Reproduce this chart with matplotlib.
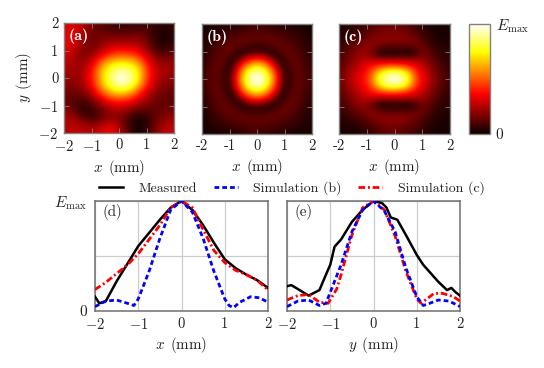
#!/usr/bin/env python
import matplotlib
matplotlib.use("Agg")
import matplotlib.pyplot as plt
import numpy as np
from matplotlib.lines import Line2D

W, H = 544.0, 368.0
plt.rcParams['font.family'] = ['cmr10', 'DejaVu Sans']
plt.rcParams['mathtext.fontset'] = 'cm'
plt.rcParams['axes.unicode_minus'] = False
plt.rcParams['axes.formatter.use_mathtext'] = True
plt.rcParams['font.size'] = 10.5
TXT = '#222222'
FRAME = '#808080'
BLUE_DASH = (0, (1.7, 1.1))
RED_DASH = (0, (2.4, 1.0, 0.7, 1.0))
X_LABEL = r'$x\ \,(\mathrm{mm})$'
Y_LABEL = r'$y\ \,(\mathrm{mm})$'

# field maps, rows go from y=2 down to y=-2, columns from x=-2 to x=2
map_a = np.array([
    [.30, .30, .28, .22, .15, .12, .10, .08, .07, .07, .07, .08, .08, .07, .05, .05, .06],
    [.33, .33, .28, .20, .15, .14, .14, .13, .12, .12, .13, .14, .12, .08, .04, .03, .05],
    [.33, .32, .26, .18, .15, .17, .19, .20, .20, .20, .20, .20, .17, .10, .04, .02, .05],
    [.33, .30, .22, .17, .16, .20, .25, .28, .29, .29, .28, .26, .20, .12, .06, .04, .08],
    [.30, .26, .20, .18, .20, .26, .34, .40, .42, .42, .40, .36, .28, .18, .11, .10, .13],
    [.28, .24, .20, .21, .28, .40, .50, .56, .60, .60, .56, .50, .38, .26, .19, .17, .18],
    [.26, .23, .21, .26, .36, .52, .66, .74, .78, .78, .74, .64, .48, .33, .24, .22, .22],
    [.24, .22, .22, .30, .42, .60, .74, .84, .90, .90, .84, .72, .52, .36, .27, .23, .22],
    [.22, .20, .22, .30, .42, .60, .76, .88, 1.0, .97, .88, .72, .52, .36, .26, .22, .20],
    [.20, .18, .21, .28, .40, .57, .72, .82, .90, .90, .82, .66, .47, .31, .23, .19, .17],
    [.17, .15, .17, .22, .33, .47, .60, .70, .74, .72, .64, .50, .36, .25, .19, .16, .14],
    [.14, .12, .12, .15, .22, .33, .43, .50, .52, .50, .44, .35, .27, .20, .15, .14, .12],
    [.16, .11, .08, .09, .14, .20, .27, .32, .34, .33, .29, .24, .19, .16, .14, .13, .13],
    [.20, .14, .07, .05, .07, .13, .19, .23, .24, .22, .17, .13, .12, .13, .14, .15, .16],
    [.24, .20, .14, .10, .09, .12, .17, .20, .18, .13, .07, .04, .05, .10, .15, .18, .20],
    [.26, .25, .23, .20, .17, .20, .25, .27, .22, .13, .05, .02, .03, .10, .18, .22, .25],
    [.26, .27, .27, .26, .26, .30, .34, .34, .27, .15, .05, .02, .05, .12, .20, .26, .28],
])

# (b) is symmetric, one quadrant only: centre at [0][0], corner at [8][8]
quad_b = np.array([
    [1.0, .93, .72, .45, .13, .05, .14, .12, .09],
    [.93, .87, .65, .41, .10, .06, .14, .12, .08],
    [.72, .65, .50, .30, .03, .10, .14, .11, .07],
    [.45, .41, .30, .07, .05, .13, .13, .10, .06],
    [.13, .10, .03, .05, .12, .14, .12, .09, .05],
    [.05, .06, .10, .13, .14, .13, .10, .07, .04],
    [.14, .14, .14, .13, .12, .10, .08, .06, .03],
    [.12, .12, .11, .10, .09, .07, .06, .04, .03],
    [.09, .08, .07, .06, .05, .04, .03, .03, .02],
])

map_c = np.array([
    [.03, .04, .05, .07, .10, .12, .14, .15, .15, .14, .12, .09, .06, .04, .03, .02, .02],
    [.04, .06, .08, .11, .13, .16, .17, .18, .18, .17, .16, .13, .09, .06, .03, .02, .02],
    [.06, .08, .11, .14, .17, .19, .20, .20, .20, .20, .19, .17, .13, .08, .05, .03, .03],
    [.08, .11, .15, .18, .20, .18, .13, .11, .11, .11, .11, .14, .16, .12, .07, .05, .04],
    [.10, .14, .19, .22, .20, .10, .03, .02, .03, .03, .02, .05, .13, .15, .10, .06, .05],
    [.11, .16, .21, .25, .26, .24, .22, .22, .22, .22, .22, .22, .22, .18, .13, .08, .06],
    [.13, .19, .25, .30, .36, .42, .47, .50, .50, .48, .43, .36, .30, .23, .16, .11, .07],
    [.15, .22, .28, .34, .42, .58, .74, .84, .87, .83, .70, .50, .35, .27, .18, .13, .08],
    [.16, .24, .30, .36, .45, .65, .85, .95, 1.0, .95, .80, .55, .38, .30, .20, .14, .09],
    [.15, .22, .28, .34, .42, .58, .74, .84, .87, .83, .70, .50, .35, .27, .18, .13, .08],
    [.13, .19, .25, .30, .36, .42, .47, .50, .50, .48, .43, .36, .30, .23, .16, .11, .07],
    [.11, .16, .21, .25, .26, .24, .22, .22, .22, .22, .22, .22, .22, .18, .13, .08, .06],
    [.09, .13, .18, .21, .18, .09, .03, .02, .03, .03, .02, .05, .13, .15, .10, .06, .05],
    [.07, .10, .13, .16, .18, .18, .14, .12, .12, .12, .12, .14, .16, .12, .07, .05, .04],
    [.05, .07, .09, .12, .15, .18, .19, .20, .20, .20, .19, .16, .13, .08, .05, .03, .03],
    [.03, .04, .05, .07, .10, .13, .16, .17, .17, .16, .14, .12, .09, .06, .04, .03, .02],
    [.03, .03, .03, .04, .06, .09, .12, .14, .14, .13, .11, .09, .06, .04, .03, .02, .02],
])

# cuts through the maps
d_x_meas = [-2, -1.9, -1.75, -1.5, -1.25, -1, -.75, -.5, -.25, 0, .25, .5, .75, 1, 1.25, 1.5, 1.75, 2]
d_meas = [.13, .07, .09, .27, .43, .59, .71, .83, .94, 1, .92, .78, .62, .47, .39, .33, .28, .21]
d_x_b = [-2, -1.75, -1.5, -1.25, -1.1, -1, -.75, -.5, -.25, 0, .25, .5, .75, 1, 1.1, 1.2, 1.35, 1.6, 1.8, 2]
d_b = [.04, .09, .10, .07, .05, .11, .36, .66, .92, 1, .90, .66, .36, .11, .05, .03, .08, .13, .12, .08]
d_x_c = [-2, -1.75, -1.5, -1.25, -1, -.75, -.5, -.25, 0, .25, .5, .75, 1, 1.25, 1.5, 1.75, 2]
d_c = [.195, .26, .34, .42, .52, .65, .78, .94, 1, .94, .74, .55, .44, .37, .33, .28, .19]

e_x_meas = [-2, -1.9, -1.75, -1.5, -1.25, -1.1, -1, -.9, -.75, -.5, -.25, 0, .2, .3, .4, .55, .75, 1, 1.15, 1.5, 1.7, 1.8, 1.9, 2]
e_meas = [.225, .235, .20, .14, .19, .33, .42, .585, .65, .81, .92, 1, .98, .94, .85, .83, .69, .51, .42, .265, .19, .21, .17, .14]
e_x_b = [-2, -1.75, -1.5, -1.25, -1.1, -1, -.75, -.5, -.25, 0, .25, .5, .75, 1, 1.15, 1.3, 1.5, 1.75, 2]
e_b = [.04, .09, .10, .05, .07, .17, .42, .72, .92, 1, .91, .72, .39, .13, .05, .07, .10, .09, .04]
e_x_c = [-2, -1.75, -1.5, -1.25, -1.05, -.85, -.75, -.5, -.25, 0, .25, .5, .75, 1, 1.1, 1.4, 1.6, 1.85, 2]
e_c = [.10, .14, .15, .08, .07, .20, .33, .69, .94, 1, .92, .68, .36, .11, .07, .16, .16, .13, .09]

ticks = [-2, -1, 0, 1, 2]
math_labels = ['$-2$', '$-1$', '0', '1', '2']
plain_labels = ['-2', '-1', '0', '1', '2']


def px_axes(fig, left, top, right, bottom):
    return fig.add_axes([left / W, 1 - bottom / H, (right - left) / W, (bottom - top) / H])


def style_frame(ax, color=FRAME, lw=1.0):
    for s in ax.spines.values():
        s.set_color(color)
        s.set_linewidth(lw)


fig = plt.figure(figsize=(W / 100, H / 100), dpi=100)

ax_a = px_axes(fig, 64, 23, 174, 133)
ax_b = px_axes(fig, 202, 24, 312, 134)
ax_c = px_axes(fig, 339, 24, 450, 134)

top = np.hstack([quad_b[:0:-1, :0:-1], quad_b[:0:-1, :]])
bottom = np.hstack([quad_b[:, :0:-1], quad_b])
map_b = np.vstack([top, bottom])

panels = [(ax_a, map_a, '(a)', math_labels), (ax_b, map_b, '(b)', plain_labels), (ax_c, map_c, '(c)', plain_labels)]
for ax, data, tag, xlab in panels:
    im = ax.imshow(data, cmap='hot', vmin=0, vmax=1, extent=[-2, 2, -2, 2],
                   interpolation='bicubic', aspect='auto')
    ax.set_xticks(ticks)
    ax.set_xticklabels(xlab, color=TXT)
    ax.set_yticks(ticks)
    ax.tick_params(direction='in', top=True, right=True, length=3.5, width=0.6,
                   color=FRAME, pad=4)
    ax.set_xlabel(X_LABEL, color=TXT, fontsize=10.8, labelpad=3)
    style_frame(ax)
    ax.text(-1.83, 1.53, tag, color='white', fontsize=11.5, family='cmb10', va='center')
ax_a.set_yticklabels(math_labels, color=TXT)
ax_a.set_ylabel(Y_LABEL, color=TXT, fontsize=10.8, labelpad=3)
ax_b.set_yticklabels([])
ax_c.set_yticklabels([])

cax = px_axes(fig, 469, 24, 490, 134)
cb = fig.colorbar(im, cax=cax)
cb.set_ticks([0, 1])
cb.set_ticklabels(['0', r'$E_{\max}$'], color=TXT)
cax.tick_params(length=0, pad=4, labelsize=11)
cb.outline.set_edgecolor(FRAME)
cb.outline.set_linewidth(1.0)

ax_d = px_axes(fig, 95, 201, 268, 311)
ax_e = px_axes(fig, 287, 201, 460, 311)
series = [
    (ax_d, d_x_meas, d_meas, d_x_b, d_b, d_x_c, d_c, '(d)', X_LABEL),
    (ax_e, e_x_meas, e_meas, e_x_b, e_b, e_x_c, e_c, '(e)', Y_LABEL),
]
for ax, xm, ym, xb, yb, xc, yc, tag, xl in series:
    ax.grid(color='#cccccc', lw=0.9)
    ax.set_axisbelow(True)
    ax.plot(xm, ym, color='k', lw=1.8, zorder=3)
    ax.plot(xc, yc, color='r', lw=2.0, ls=RED_DASH, zorder=4)
    ax.plot(xb, yb, color='b', lw=2.0, ls=BLUE_DASH, zorder=5)
    ax.set_xlim(-2, 2)
    ax.set_ylim(0, 1)
    ax.set_xticks(ticks)
    ax.set_xticklabels(math_labels, color=TXT)
    ax.set_yticks([0, .5, 1])
    ax.tick_params(length=0, pad=4.5)
    ax.set_xlabel(xl, color=TXT, fontsize=10.8, labelpad=2)
    ax.text(-1.83, .9, tag, color=TXT, fontsize=10.8, va='center')
    style_frame(ax, color='#707070', lw=1.1)
ax_d.set_yticklabels(['0', '', r'$E_{\max}$'], color=TXT)
ax_d.tick_params(axis='y', labelsize=11, pad=5.5)
ax_e.set_yticklabels([])

handles = [
    Line2D([], [], color='k', lw=1.8, label='Measured'),
    Line2D([], [], color='b', lw=2.0, ls=BLUE_DASH, label='Simulation (b)'),
    Line2D([], [], color='r', lw=2.0, ls=RED_DASH, label='Simulation (c)'),
]
fig.legend(handles=handles, ncol=3, loc='center', bbox_to_anchor=(292 / W, 1 - 188 / H),
           frameon=False, fontsize=10, labelcolor=TXT, handlelength=1.7, columnspacing=1.2,
           handletextpad=1.13, borderpad=0)

fig.savefig('out.png', dpi=100)
